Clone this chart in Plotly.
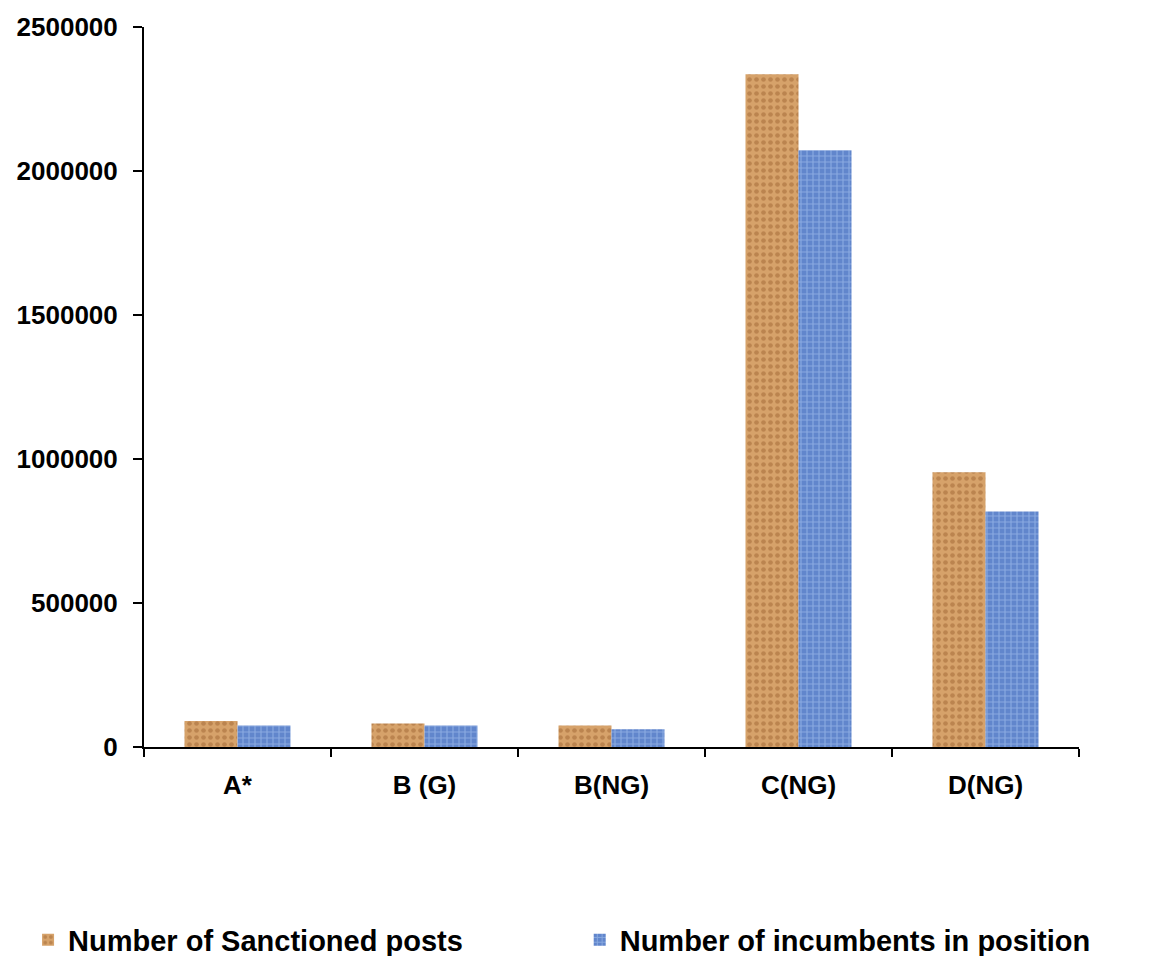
import plotly.graph_objects as go

categories = ["A*", "B (G)", "B(NG)", "C(NG)", "D(NG)"]
sanctioned = [90000, 82000, 75000, 2336000, 954000]
incumbents = [75000, 75000, 61500, 2072000, 818000]
series_names = ["Number of Sanctioned posts", "Number of incumbents in position"]
y_ticks = [0, 500000, 1000000, 1500000, 2000000, 2500000]

FONT = "Liberation Sans, Arial, sans-serif"
BOLD26 = dict(family=FONT, size=26, color="black", weight="bold")
LEGFONT = dict(family=FONT, size=29, color="black", weight="bold")

fig = go.Figure()
fig.add_trace(go.Bar(
    x=categories, y=sanctioned, name=series_names[0], legend="legend",
    marker=dict(color="#C8925C", line=dict(width=0),
                pattern=dict(shape=".", fgcolor="#A06633", bgcolor="#D6A26A",
                             size=7, solidity=0.35)),
))
fig.add_trace(go.Bar(
    x=categories, y=incumbents, name=series_names[1], legend="legend2",
    marker=dict(color="#6C90D2", line=dict(width=0),
                pattern=dict(shape="+", fgcolor="#AFCBF4", bgcolor="#6186CC",
                             size=6, solidity=0.35)),
))

fig.update_layout(
    width=1153, height=956,
    margin=dict(l=144, r=74, t=27, b=209, autoexpand=False),
    plot_bgcolor="white", paper_bgcolor="white",
    barmode="group", bargap=0.433, bargroupgap=0,
    font=BOLD26,
    showlegend=True,
    legend=dict(orientation="h", x=-0.124, xanchor="left", y=-0.268, yanchor="middle",
                font=LEGFONT, itemwidth=30, bgcolor="rgba(0,0,0,0)"),
    legend2=dict(orientation="h", x=0.466, xanchor="left", y=-0.268, yanchor="middle",
                 font=LEGFONT, itemwidth=30, bgcolor="rgba(0,0,0,0)"),
)
fig.update_yaxes(
    range=[0, 2500000], tickvals=y_ticks, ticktext=[str(v) for v in y_ticks],
    showline=True, linecolor="black", linewidth=2,
    ticks="outside", ticklen=9, tickwidth=2, tickcolor="black",
    showgrid=False, zeroline=False, ticklabelstandoff=10,
    tickfont=BOLD26,
)
fig.update_xaxes(
    showline=True, linecolor="black", linewidth=2,
    ticks="outside", ticklen=8, tickwidth=2, tickcolor="black",
    tickson="boundaries", showgrid=False, ticklabelstandoff=14,
    tickfont=BOLD26,
)

fig.write_html(
    "out.html",
    config={"displayModeBar": False},
    post_script="document.body.style.margin='0';document.body.style.overflow='hidden';",
)
